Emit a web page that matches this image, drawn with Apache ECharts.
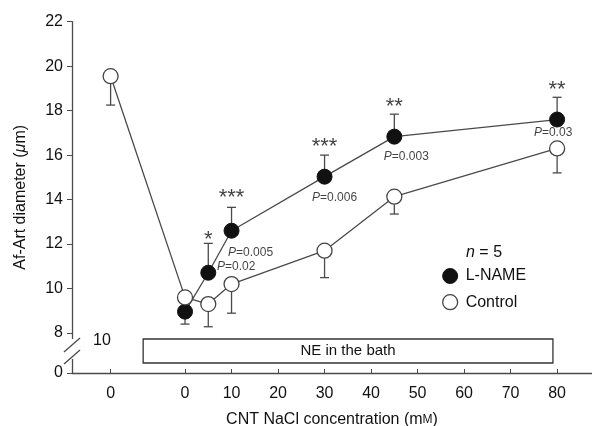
<!DOCTYPE html>
<html>
<head>
<meta charset="utf-8">
<script src="https://cdn.jsdelivr.net/npm/echarts@6/dist/echarts.min.js"></script>
<style>
  html, body { margin: 0; padding: 0; background: #fff; }
  #chart { width: 592px; height: 426px; }
</style>
</head>
<body>
<div id="chart"></div>
<script>
// x = -16 stands for the pre-NE baseline ("0" at the far left)
const controlX = [-16, 0, 5, 10, 30, 45, 80];
const controlY = [19.55, 9.6, 9.3, 10.2, 11.7, 14.13, 16.3];
const controlErrEnd = [18.25, null, 8.28, 8.89, 10.49, 13.35, 15.2];

const lnameX = [0, 5, 10, 30, 45, 80];
const lnameY = [8.96, 10.71, 12.6, 15.03, 16.83, 17.6];
const lnameErrEnd = [8.4, 12.03, 13.65, 16.0, 17.84, 18.6];

const stars = ['', '*', '***', '***', '**', '**'];
const pValues = ['', '0.02', '0.005', '0.006', '0.003', '0.03'];

const xTicks = [-16, 0, 10, 20, 30, 40, 50, 60, 70, 80];
const yTicks = [6.2, 8, 10, 12, 14, 16, 18, 20, 22];

const FONT = '"Liberation Sans", Arial, sans-serif';
const LINE = '#4a4a4a';

// label offsets (pixels) for the P values, one per L-NAME point
const pOffsets = [[0, 0], [28, -6], [19, 22], [10, 21], [12, 20], [-4, 13]];
const starOffsets = [[0, 0], [0, 8], [0, 2], [0, 3], [0, 4], [0, 4]];

const chart = echarts.init(document.getElementById('chart'));

const zip = (xs, ys) => xs.map((x, i) => [x, ys[i]]);

const errData = []
  .concat(controlX.map((x, i) => [x, controlY[i], controlErrEnd[i]]))
  .concat(lnameX.map((x, i) => [x, lnameY[i], lnameErrEnd[i]]))
  .filter(d => d[2] != null);

const option = {
  animation: false,
  grid: { left: 72, right: 0, top: 21.7, bottom: 53, outerBoundsMode: 'none' },
  xAxis: {
    type: 'value',
    min: -24.3,
    max: 87.5,
    splitLine: { show: false },
    axisLine: { onZero: false, lineStyle: { color: LINE, width: 1.3 } },
    axisTick: { inside: true, length: 4, customValues: xTicks, lineStyle: { color: LINE } },
    axisLabel: {
      customValues: xTicks,
      margin: 13,
      color: '#111',
      fontSize: 16,
      fontFamily: FONT,
      formatter: v => (v < -1 ? '0' : String(v))
    },
    name: 'CNT NaCl concentration (m{sc|M})',
    nameLocation: 'middle',
    nameGap: 39,
    nameTextStyle: {
      color: '#111', fontSize: 16, fontFamily: FONT,
      rich: { sc: { fontSize: 12, fontFamily: FONT, color: '#111' } }
    }
  },
  yAxis: {
    type: 'value',
    min: 6.2,
    max: 22,
    splitLine: { show: false },
    axisLine: { onZero: false, lineStyle: { color: LINE, width: 1.3 } },
    axisTick: { length: 5, customValues: yTicks, lineStyle: { color: LINE } },
    axisLabel: {
      customValues: yTicks,
      margin: 9,
      color: '#111',
      fontSize: 16,
      fontFamily: FONT,
      formatter: v => (v < 7 ? '0' : String(v))
    },
    name: 'Af-Art diameter ({i|μ}m)',
    nameLocation: 'middle',
    nameGap: 43,
    nameTextStyle: {
      color: '#111', fontSize: 16, fontFamily: FONT,
      rich: { i: { fontStyle: 'italic', fontSize: 16, fontFamily: FONT, color: '#111' } }
    }
  },
  legend: {
    orient: 'vertical',
    left: 437,
    top: 263,
    itemWidth: 15,
    itemHeight: 15,
    itemGap: 10,
    textStyle: { color: '#111', fontSize: 16, fontFamily: FONT, padding: [0, 0, 0, 3] },
    data: [
      { name: 'L-NAME', icon: 'circle', itemStyle: { color: '#111', borderColor: '#111', borderWidth: 1 } },
      { name: 'Control', icon: 'circle', itemStyle: { color: '#fff', borderColor: '#444', borderWidth: 1.3 } }
    ]
  },
  series: [
    {
      type: 'custom',
      name: 'err',
      z: 1,
      silent: true,
      data: errData,
      renderItem: (params, api) => {
        const p0 = api.coord([api.value(0), api.value(1)]);
        const p1 = api.coord([api.value(0), api.value(2)]);
        const w = 4.5;
        return {
          type: 'group',
          children: [
            { type: 'line', shape: { x1: p0[0], y1: p0[1], x2: p1[0], y2: p1[1] }, style: { stroke: LINE, lineWidth: 1.3 } },
            { type: 'line', shape: { x1: p1[0] - w, y1: p1[1], x2: p1[0] + w, y2: p1[1] }, style: { stroke: LINE, lineWidth: 1.3 } }
          ]
        };
      }
    },
    {
      type: 'line',
      name: 'L-NAME',
      z: 3,
      data: zip(lnameX, lnameY),
      symbol: 'circle',
      symbolSize: 15,
      lineStyle: { color: LINE, width: 1.3 },
      itemStyle: { color: '#111', borderColor: '#111', borderWidth: 1 },
      markArea: {
        silent: true,
        itemStyle: { color: '#fff', borderColor: '#333', borderWidth: 1.3 },
        label: { show: true, position: 'inside', color: '#111', fontSize: 15, fontFamily: FONT },
        data: [[{ name: 'NE in the bath', xAxis: -9, yAxis: 7.73 }, { xAxis: 79.1, yAxis: 6.65 }]]
      }
    },
    {
      type: 'line',
      name: 'Control',
      z: 4,
      data: zip(controlX, controlY),
      symbol: 'circle',
      symbolSize: 15,
      lineStyle: { color: LINE, width: 1.3 },
      itemStyle: { color: '#fff', borderColor: '#444', borderWidth: 1.3 }
    },
    {
      type: 'scatter',
      name: 'stars',
      z: 5,
      silent: true,
      symbolSize: 0,
      data: lnameX.map((x, i) => ({
        value: [x, lnameErrEnd[i]],
        label: { offset: starOffsets[i] }
      })),
      label: {
        show: true,
        position: 'top',
        distance: 0,
        color: '#111',
        fontSize: 22,
        fontFamily: FONT,
        formatter: p => stars[p.dataIndex]
      }
    },
    {
      type: 'scatter',
      name: 'pvals',
      z: 5,
      silent: true,
      symbolSize: 0,
      data: lnameX.map((x, i) => ({
        value: [x, lnameY[i]],
        label: { offset: pOffsets[i] }
      })),
      label: {
        show: true,
        position: 'inside',
        color: '#111',
        fontSize: 12,
        fontFamily: FONT,
        formatter: p => (pValues[p.dataIndex] ? '{i|P}=' + pValues[p.dataIndex] : ''),
        rich: { i: { fontStyle: 'italic', fontSize: 12, fontFamily: FONT, color: '#111' } }
      }
    }
  ],
  graphic: [
    // axis break on the y axis
    { type: 'rect', shape: { x: 64, y: 339, width: 14, height: 20 }, style: { fill: '#fff' }, z: 100 },
    { type: 'line', shape: { x1: 64, y1: 352, x2: 80, y2: 338 }, style: { stroke: LINE, lineWidth: 1.3 }, z: 101 },
    { type: 'line', shape: { x1: 64, y1: 364, x2: 80, y2: 350 }, style: { stroke: LINE, lineWidth: 1.3 }, z: 101 },
    { type: 'text', left: 93, top: 333, style: { text: '10', fill: '#111', fontSize: 16, fontFamily: FONT }, z: 101 },
    {
      type: 'text', left: 466, top: 245, z: 101,
      style: {
        text: '{i|n} = 5', fill: '#111', fontSize: 16, fontFamily: FONT,
        rich: { i: { fontStyle: 'italic', fontSize: 16, fontFamily: FONT, fill: '#111' } }
      }
    }
  ]
};

chart.setOption(option);
</script>
</body>
</html>
